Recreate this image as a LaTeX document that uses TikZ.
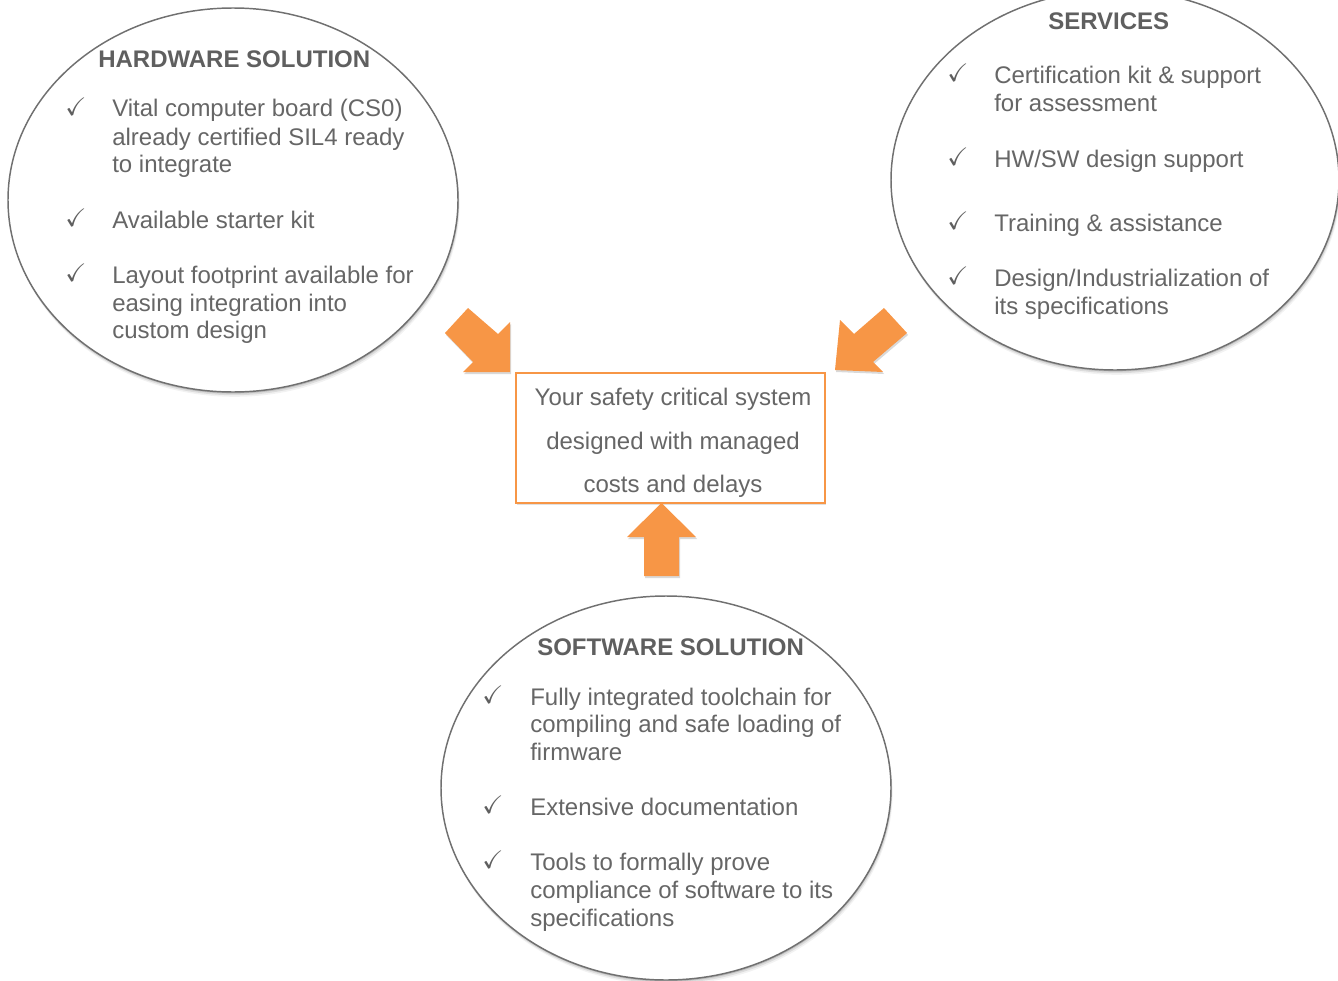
\documentclass[tikz,border=0pt]{standalone}
\usepackage{amssymb}
\usepackage{fontspec}
\setmainfont{Liberation Sans}
\usetikzlibrary{shapes.geometric,shadows}
\definecolor{txtgray}{HTML}{666666}
\definecolor{headgray}{HTML}{5F5F5F}
\definecolor{linegray}{HTML}{707070}
\definecolor{accent}{HTML}{F79646}
\tikzset{
  softshadow/.style={
    drop shadow={shadow xshift=0.4pt,shadow yshift=-1.2pt,opacity=0.14,fill=black},
    drop shadow={shadow xshift=0.8pt,shadow yshift=-2.4pt,opacity=0.09,fill=black},
    drop shadow={shadow xshift=1.2pt,shadow yshift=-3.6pt,opacity=0.05,fill=black}},
  bubble/.style={ellipse,draw=linegray,line width=1.1pt,fill=white,inner sep=0pt,softshadow},
  item/.style={anchor=base west,inner sep=0pt,text=txtgray,font=\fontsize{18}{20.7}\selectfont},
  head/.style={anchor=base west,inner sep=0pt,text=headgray,font=\fontsize{18}{20.7}\selectfont\bfseries},
  tick/.style={anchor=base west,inner sep=0pt,text=headgray,font=\fontsize{19}{21}\selectfont},
  centertxt/.style={anchor=base,inner sep=0pt,text=txtgray,font=\fontsize{18}{20.7}\selectfont},
  goalbox/.style={draw=accent,line width=1.3pt,fill=white,inner sep=0pt,
    drop shadow={shadow xshift=0.6pt,shadow yshift=-1.2pt,opacity=0.12,fill=black}},
  blockarrow/.style={fill=accent,
    drop shadow={shadow xshift=0.8pt,shadow yshift=-1.5pt,opacity=0.15,fill=black}}
}
\begin{document}
\begin{tikzpicture}[x=0.75pt,y=-0.75pt]
\useasboundingbox (0,0) rectangle (1338,981);

% bubbles
\node[bubble,minimum width=337.5pt,minimum height=288pt] (hw) at (233,200) {};
\node[bubble,minimum width=336pt,minimum height=285pt] (sv) at (1115,180) {};
\node[bubble,minimum width=337.5pt,minimum height=288pt] (sw) at (666,788) {};

% central box
\node[goalbox,minimum width=231.75pt,minimum height=97.5pt] (goal) at (670.5,438) {};
\node[centertxt] (g1) at (673,405) {Your safety critical system};
\node[centertxt] (g2) at (673,449) {designed with managed};
\node[centertxt] (g3) at (673,492) {costs and delays};

% block arrows
\fill[blockarrow] (445,333) -- (468,308) -- (498,334) -- (510,322) -- (510,372)
  -- (463,372) -- (473,362) -- cycle;
\fill[blockarrow] (907,333) -- (884,308) -- (854,334) -- (840,320) -- (835,370)
  -- (883,372) -- (873,362) -- cycle;
\fill[blockarrow] (644,576) -- (644,537) -- (627,537) -- (661.5,503) -- (696,537)
  -- (679,537) -- (679,576) -- cycle;

% hardware
\node[head] (hwt) at (98,68) {HARDWARE SOLUTION};
\node[tick] (hwc1) at (65,115) {$\checkmark$};
\node[item] (hw1a) at (112,117) {Vital computer board (CS0)};
\node[item] (hw1b) at (112,145) {already certified SIL4 ready};
\node[item] (hw1c) at (112,172) {to integrate};
\node[tick] (hwc2) at (65,226) {$\checkmark$};
\node[item] (hw2a) at (112,228) {Available starter kit};
\node[tick] (hwc3) at (65,281) {$\checkmark$};
\node[item] (hw3a) at (112,283) {Layout footprint available for};
\node[item] (hw3b) at (112,311) {easing integration into};
\node[item] (hw3c) at (112,338) {custom design};

% services
\node[head] (svt) at (1048,30) {SERVICES};
\node[tick] (svc1) at (947,82) {$\checkmark$};
\node[item] (sv1a) at (994,84) {Certification kit \& support};
\node[item] (sv1b) at (994,111) {for assessment};
\node[tick] (svc2) at (947,165) {$\checkmark$};
\node[item] (sv2a) at (994,167) {HW/SW design support};
\node[tick] (svc3) at (947,229) {$\checkmark$};
\node[item] (sv3a) at (994,231) {Training \& assistance};
\node[tick] (svc4) at (947,284) {$\checkmark$};
\node[item] (sv4a) at (994,286) {Design/Industrialization of};
\node[item] (sv4b) at (994,314) {its specifications};

% software
\node[head] (swt) at (537,655) {SOFTWARE SOLUTION};
\node[tick] (swc1) at (482,703) {$\checkmark$};
\node[item] (sw1a) at (530,705) {Fully integrated toolchain for};
\node[item] (sw1b) at (530,732) {compiling and safe loading of};
\node[item] (sw1c) at (530,760) {firmware};
\node[tick] (swc2) at (482,813) {$\checkmark$};
\node[item] (sw2a) at (530,815) {Extensive documentation};
\node[tick] (swc3) at (482,868) {$\checkmark$};
\node[item] (sw3a) at (530,870) {Tools to formally prove};
\node[item] (sw3b) at (530,898) {compliance of software to its};
\node[item] (sw3c) at (530,926) {specifications};
\end{tikzpicture}
\end{document}
